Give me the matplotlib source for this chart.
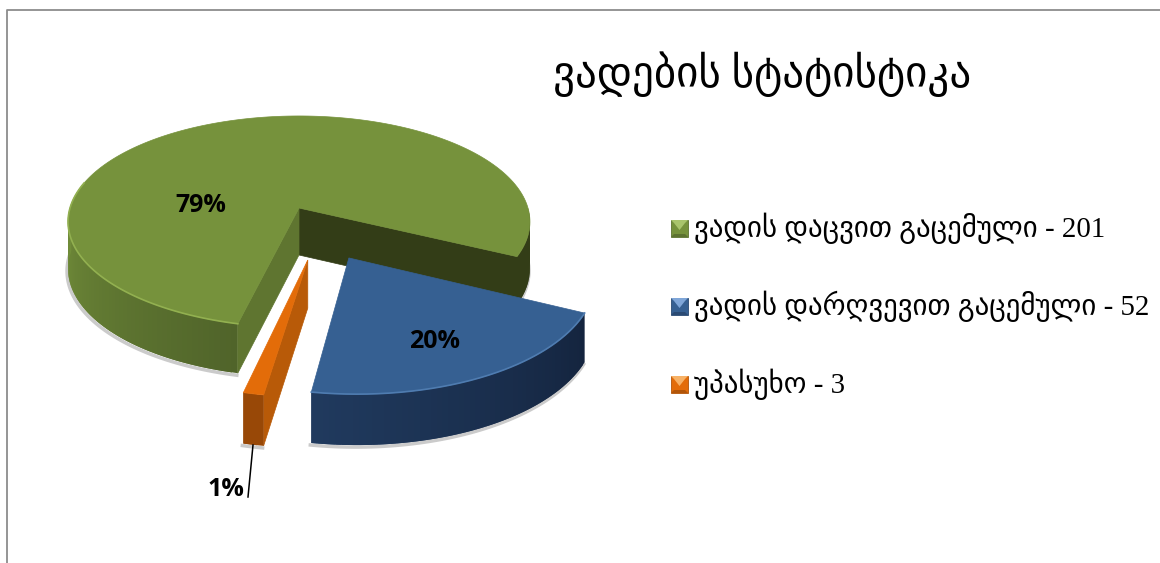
import numpy as np
import matplotlib
matplotlib.use("Agg")
import matplotlib.pyplot as plt
from matplotlib.colors import to_rgb
from matplotlib.patches import Polygon

TITLE = "ვადების სტატისტიკა"
categories = ["ვადის დაცვით გაცემული", "ვადის დარღვევით გაცემული", "უპასუხო"]
values = [201, 52, 3]

# pixel layout of the fake 3d pie
CX, CY = 299, 208
RX, RY = 229, 104
PERSP = 0.13
START = 193.5
EXPLODE = [(0.0, 0.0), (0.205, -0.452), (0.036, -0.47)]

TOP_COL = ["#76923c", "#366092", "#e36c09"]
WALL_COL = [("#50642a", "#728e3a"), ("#203a5e", "#14243e"), ("#984807", "#984807")]
LEGEND_LIGHT = ["#a9c46c", "#7fa6d8", "#f7b267"]
LEGEND_DARK = ["#5c7230", "#2a4a73", "#b25508"]


def project(theta_deg, radius, offset):
    t = np.radians(theta_deg)
    x = radius * np.sin(t) + offset[0]
    y = radius * np.cos(t) + offset[1]
    s = 1 / (1 + PERSP * y)
    px = CX + RX * x * s
    py = CY - RY * y * s
    d = 47 + (s - 1) * 17
    return px, py, d


def wall(ax, t0, t1, offset, c0, c1, n=60):
    th = np.linspace(t0, t1, n)
    px, py, d = project(th, 1.0, offset)
    c0, c1 = np.array(to_rgb(c0)), np.array(to_rgb(c1))
    # soft shadow under the wall
    ax.plot(px - 1, py + d + 2, color="#b5b5b5", lw=2.5, alpha=0.7, zorder=ax.zo - 0.1)
    for i in range(n - 1):
        col = c0 + (c1 - c0) * i / (n - 2)
        # each strip overlaps the next one so no seams show
        j = min(i + 2, n - 1)
        quad = [(px[i], py[i]), (px[j], py[j]),
                (px[j], py[j] + d[j]), (px[i], py[i] + d[i])]
        ax.add_patch(Polygon(quad, fc=col, ec="none", zorder=ax.zo))
    ax.zo += 1


def cut_wall(ax, theta, offset, color):
    ax_pt = project(np.array([theta]), 0.0, offset)
    rim = project(np.array([theta]), 1.0, offset)
    quad = [(ax_pt[0][0], ax_pt[1][0]), (rim[0][0], rim[1][0]),
            (rim[0][0], rim[1][0] + rim[2][0]), (ax_pt[0][0], ax_pt[1][0] + ax_pt[2][0])]
    ax.add_patch(Polygon(quad, fc=color, ec=color, lw=0.5, zorder=ax.zo))
    ax.zo += 1


def top_face(ax, t0, t1, offset, color, rim_col=None, rim_from=None):
    th = np.linspace(t0, t1, 200)
    px, py, _ = project(th, 1.0, offset)
    a = project(np.array([t0]), 0.0, offset)
    pts = np.column_stack([np.r_[a[0], px], np.r_[a[1], py]])
    ax.add_patch(Polygon(pts, fc=color, ec=color, lw=0.5, zorder=ax.zo))
    ax.zo += 1
    if rim_col:
        ax.plot(px[th <= rim_from], py[th <= rim_from], color=rim_col, lw=1.2, zorder=ax.zo)
        ax.zo += 1


def legend_box(ax, x, y, i, size=17):
    ax.add_patch(Polygon([(x, y), (x + size, y), (x + size, y + size), (x, y + size)],
                         fc=TOP_COL[i], ec=LEGEND_DARK[i], lw=0.6, zorder=5))
    ax.add_patch(Polygon([(x, y), (x + size, y), (x + size - 3, y + 3), (x + size / 2, y + 10), (x + 3, y + 3)],
                         fc=LEGEND_LIGHT[i], ec="none", zorder=6))
    ax.add_patch(Polygon([(x, y + size), (x + size, y + size), (x + size - 3, y + size - 3), (x + 3, y + size - 3)],
                         fc=LEGEND_DARK[i], ec="none", zorder=6))


fig = plt.figure(figsize=(11.6, 5.63), dpi=100)
ax = fig.add_axes([0, 0, 1, 1])
ax.set_xlim(0, 1160)
ax.set_ylim(563, 0)
ax.axis("off")
ax.zo = 2

# frame of the pasted picture
ax.plot([7, 7, 1160], [563, 10, 10], color="#8c8c8c", lw=1.3)

total = sum(values)
sweeps = [v / total * 360 for v in values]
g0 = START
g1 = g0 + sweeps[0]
b1 = g1 + sweeps[1]
o1 = b1 + sweeps[2]

# green slice
off = EXPLODE[0]
cut_wall(ax, g1, off, "#333d17")
wall(ax, 90, g1 - 360, off, "#333d17", "#333d17", n=12)
wall(ax, g0, 272, off, *WALL_COL[0])
cut_wall(ax, g0, off, "#5f7530")
top_face(ax, g0, g1, off, TOP_COL[0], "#92b050", 285)

# orange slice
off = EXPLODE[2]
cut_wall(ax, b1, off, "#b85a08")
wall(ax, b1 - 360, o1 - 360, off, *WALL_COL[2], n=4)
top_face(ax, b1 - 360, o1 - 360, off, TOP_COL[2])

# blue slice
off = EXPLODE[1]
wall(ax, g1 - 360, b1 - 360, off, WALL_COL[1][1], WALL_COL[1][0])
top_face(ax, g1 - 360, b1 - 360, off, TOP_COL[1], "#4f7cb0", b1)

# percent labels
pct = ["%d%%" % round(v / total * 100) for v in values]
pct_pos = [(201, 206), (435, 341), (226, 490)]
for s, (x, y) in zip(pct, pct_pos):
    ax.text(x, y, s, ha="center", va="center", fontsize=18, fontweight="bold",
            family="Open Sans", color="black", zorder=50)
ax.plot([253, 248], [445, 497], color="black", lw=1.1, zorder=49)

# title and legend
fonts = ["Liberation Serif", "DejaVu Sans"]
ax.text(762, 74, TITLE, ha="center", va="center", fontsize=31, family=fonts, color="black")
legend_y = [228, 306, 384]
for i, (name, v) in enumerate(zip(categories, values)):
    legend_box(ax, 671, legend_y[i] - 8, i)
    ax.text(694, legend_y[i], "%s - %d" % (name, v), ha="left", va="center",
            fontsize=20.8, family=fonts, color="black")

fig.savefig("out.png", dpi=100)
